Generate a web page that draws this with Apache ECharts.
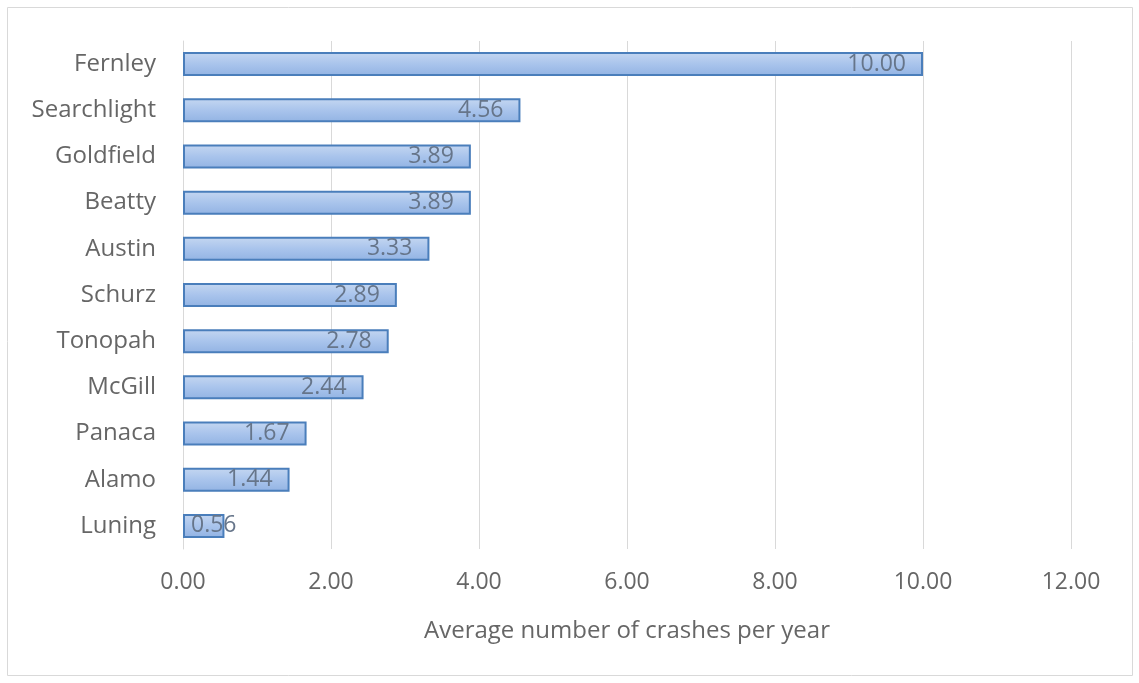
<!DOCTYPE html>
<html><head><meta charset="utf-8">
<script src="https://cdn.jsdelivr.net/npm/echarts@6/dist/echarts.min.js"></script>
<style>html,body{margin:0;padding:0;background:#fff}#c{width:1139px;height:683px}</style>
</head><body><div id="c"></div>
<script>
const categories = ["Fernley","Searchlight","Goldfield","Beatty","Austin","Schurz","Tonopah","McGill","Panaca","Alamo","Luning"];
const values = [10.00,4.56,3.89,3.89,3.33,2.89,2.78,2.44,1.67,1.44,0.56];
const xTicks = {min:0,max:12,interval:2};
const xTitle = "Average number of crashes per year";

const FONT = "'Open Sans', 'Liberation Sans', sans-serif";
const chart = echarts.init(document.getElementById('c'), null, {renderer:'canvas'});
const data = values.map((v,i)=> v < 1 ? {value:v,label:{position:'insideLeft',distance:8}} : v);
chart.setOption({
  animation:false,
  graphic:[{type:'rect',shape:{x:7.5,y:7.5,width:1125,height:668},style:{fill:'none',stroke:'#d9d9d9',lineWidth:1},z:-1}],
  grid:{left:183,right:68,top:41,bottom:134,containLabel:false},
  xAxis:{type:'value',min:xTicks.min,max:xTicks.max,interval:xTicks.interval,
    axisLine:{show:false},axisTick:{show:false},
    splitLine:{lineStyle:{color:'#d9d9d9',width:1}},
    axisLabel:{formatter:v=>v.toFixed(2),color:'#666666',fontSize:23,fontFamily:FONT,margin:22},
    name:xTitle,nameLocation:'middle',nameGap:70,
    nameTextStyle:{color:'#666666',fontSize:24,fontFamily:FONT}},
  yAxis:{type:'category',data:categories,inverse:true,
    axisLine:{show:true,lineStyle:{color:'#d9d9d9'}},axisTick:{show:false},
    axisLabel:{color:'#666666',fontSize:24,fontFamily:FONT,margin:27}},
  series:[{type:'bar',data:data,barWidth:'52%',
    itemStyle:{color:new echarts.graphic.LinearGradient(0,0,0,1,[
      {offset:0,color:'#c5d7f1'},{offset:0.5,color:'#a9c4ec'},{offset:1,color:'#92b3e3'}]),
      borderColor:'#4a7ebb',borderWidth:2},
    label:{show:true,position:'insideRight',distance:17,formatter:p=>p.value.toFixed(2),
      color:'#66758a',fontSize:23,fontFamily:FONT}}]
});
</script></body></html>
